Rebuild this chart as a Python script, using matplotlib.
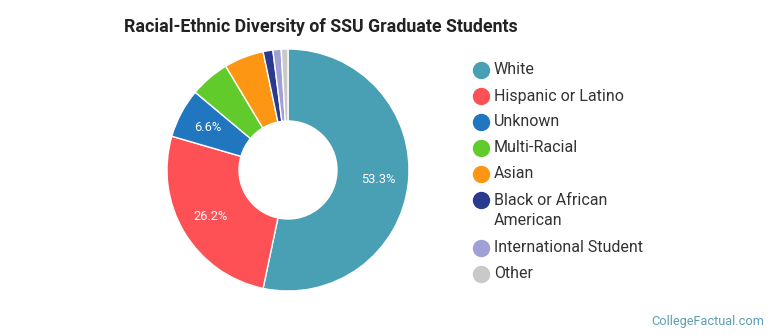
import matplotlib.pyplot as plt
from matplotlib.lines import Line2D

categories = ["White", "Hispanic or Latino", "Unknown", "Multi-Racial", "Asian",
              "Black or African\nAmerican", "International Student", "Other"]
shares = [53.3, 26.2, 6.6, 5.3, 5.3, 1.3, 1.1, 0.9]
colors = ["#49a0b5", "#fd5155", "#2176c0", "#62cb2c", "#fc9613",
          "#2a3a8f", "#a09fd6", "#c9c9c9"]

plt.rcParams["font.family"] = ["Roboto", "DejaVu Sans"]

W, H = 770, 335
fig = plt.figure(figsize=(W / 100, H / 100), dpi=100)

# donut: centre (288,170) px, outer radius 121 px
cx, cy, r = 288, 170, 121
ax = fig.add_axes([(cx - r) / W, (H - cy - r) / H, 2 * r / W, 2 * r / H])


def fmt(p):
    return f"{p:.1f}%" if p >= 6 else ""


wedges, _, autotexts = ax.pie(
    shares, colors=colors, startangle=90, counterclock=False, radius=1,
    autopct=fmt, pctdistance=0.75,
    wedgeprops=dict(width=0.595, edgecolor="white", linewidth=1),
    textprops=dict(color="white", fontsize=9.3))
ax.set_xlim(-1, 1)
ax.set_ylim(-1, 1)
ax.set_aspect("equal")
ax.axis("off")

fig.text(124 / W, 1 - 27 / H, "Racial-Ethnic Diversity of SSU Graduate Students",
         fontsize=12.8, fontweight="bold", color="#222222", va="center", ha="left")

# legend drawn by hand
y = 70
for name, col in zip(categories, colors):
    fig.add_artist(Line2D([481 / W], [1 - y / H], marker="o", markersize=11.5,
                          color=col, linestyle="none", transform=fig.transFigure))
    if "\n" in name:
        fig.text(494 / W, 1 - (y - 7) / H, name, fontsize=11.5, color="#333333",
                 va="top", ha="left", linespacing=1.42)
        y += 48
    else:
        fig.text(494 / W, 1 - y / H, name, fontsize=11.5, color="#333333",
                 va="center", ha="left")
        y += 26

fig.text(764 / W, 1 - 321 / H, "CollegeFactual.com", fontsize=9.2,
         color="#5a9fb5", ha="right", va="center")

fig.savefig("out.png", dpi=100)
